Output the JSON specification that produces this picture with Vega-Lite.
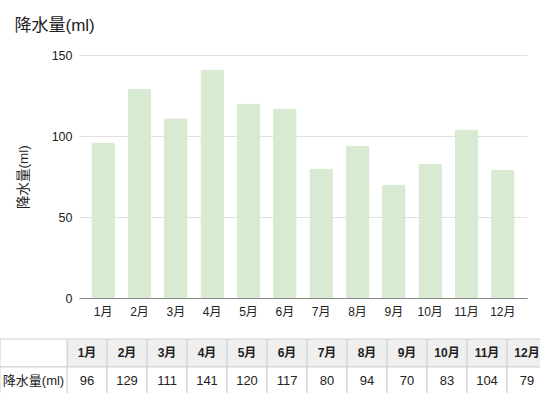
{
  "$schema": "https://vega.github.io/schema/vega-lite/v6.json",
  "width": 448,
  "height": 243,
  "autosize": {"type": "none"},
  "padding": {"left": 79, "top": 55, "right": 13, "bottom": 95},
  "background": "white",
  "config": {
    "view": {"stroke": null},
    "font": "Liberation Sans, Noto Sans CJK JP, sans-serif"
  },
  "title": {
    "text": "降水量(ml)",
    "anchor": "start",
    "frame": "bounds",
    "dx": 15,
    "offset": 1,
    "fontSize": 17,
    "fontWeight": "normal",
    "color": "#222222",
    "baseline": "alphabetic"
  },
  "data": {
    "values": [
      {"month": "1月", "value": 96},
      {"month": "2月", "value": 129},
      {"month": "3月", "value": 111},
      {"month": "4月", "value": 141},
      {"month": "5月", "value": 120},
      {"month": "6月", "value": 117},
      {"month": "7月", "value": 80},
      {"month": "8月", "value": 94},
      {"month": "9月", "value": 70},
      {"month": "10月", "value": 83},
      {"month": "11月", "value": 104},
      {"month": "12月", "value": 79}
    ]
  },
  "layer": [
    {
      "mark": {"type": "bar", "color": "#d9ead3", "cornerRadiusTopLeft": 2, "cornerRadiusTopRight": 2},
      "encoding": {
        "x": {
          "field": "month", "type": "ordinal", "sort": null,
          "scale": {"paddingInner": 0.35, "paddingOuter": 0.34},
          "axis": {"title": null, "labelAngle": 0, "ticks": false, "domainColor": "#8a8a8a", "labelPadding": 8, "labelFontSize": 12, "labelColor": "#222222", "grid": false}
        },
        "y": {
          "field": "value", "type": "quantitative",
          "scale": {"domain": [0, 150], "nice": false},
          "axis": {"title": "降水量(ml)", "values": [0, 50, 100, 150], "domain": false, "ticks": false, "labelPadding": 7, "labelFontSize": 12.5, "labelColor": "#222222", "gridColor": "#e0e0e0", "titleFontSize": 13.5, "titleFontWeight": "normal", "titleColor": "#222222", "titlePadding": 21}
        }
      }
    },
    {
      "encoding": {
        "x": {"field": "month", "type": "ordinal", "sort": null, "scale": {"range": [-12, 468], "paddingInner": 0, "paddingOuter": 0}, "axis": null}
      },
      "layer": [
        {
          "mark": {"type": "rect", "fill": "#efefef", "stroke": "#d0d0d0", "strokeWidth": 1},
          "encoding": {"y": {"datum": "header", "type": "nominal", "scale": {"domain": ["header", "value"], "range": [284, 340], "paddingInner": 0, "paddingOuter": 0}, "axis": null}}
        },
        {
          "mark": {"type": "rect", "fill": "#ffffff", "stroke": "#d0d0d0", "strokeWidth": 1},
          "encoding": {"y": {"datum": "value", "type": "nominal", "scale": {"domain": ["header", "value"], "range": [284, 340], "paddingInner": 0, "paddingOuter": 0}, "axis": null}}
        },
        {
          "mark": {"type": "text", "fontWeight": "bold", "fontSize": 12, "color": "#222222", "align": "center", "baseline": "middle"},
          "encoding": {
            "y": {"datum": "header", "type": "nominal", "scale": {"domain": ["header", "value"], "range": [284, 340], "paddingInner": 0, "paddingOuter": 0}, "axis": null},
            "text": {"field": "month"}
          }
        },
        {
          "mark": {"type": "text", "fontSize": 13, "color": "#222222", "align": "center", "baseline": "middle"},
          "encoding": {
            "y": {"datum": "value", "type": "nominal", "scale": {"domain": ["header", "value"], "range": [284, 340], "paddingInner": 0, "paddingOuter": 0}, "axis": null},
            "text": {"field": "value"}
          }
        }
      ]
    },
    {
      "data": {"values": [{"col": "label", "row": "header", "text": ""}, {"col": "label", "row": "value", "text": "降水量(ml)"}]},
      "encoding": {
        "x": {"field": "col", "type": "nominal", "scale": {"domain": ["label"], "range": [-79, -12], "paddingInner": 0, "paddingOuter": 0}, "axis": null},
        "y": {"field": "row", "type": "nominal", "scale": {"domain": ["header", "value"], "range": [284, 340], "paddingInner": 0, "paddingOuter": 0}, "axis": null}
      },
      "layer": [
        {"mark": {"type": "rect", "fill": "#ffffff", "stroke": "#d0d0d0", "strokeWidth": 1}},
        {"mark": {"type": "text", "fontSize": 13, "color": "#222222", "align": "center", "baseline": "middle"}, "encoding": {"text": {"field": "text"}}}
      ]
    }
  ],
  "resolve": {
    "scale": {"x": "independent", "y": "independent"},
    "axis": {"x": "independent", "y": "independent"}
  }
}
